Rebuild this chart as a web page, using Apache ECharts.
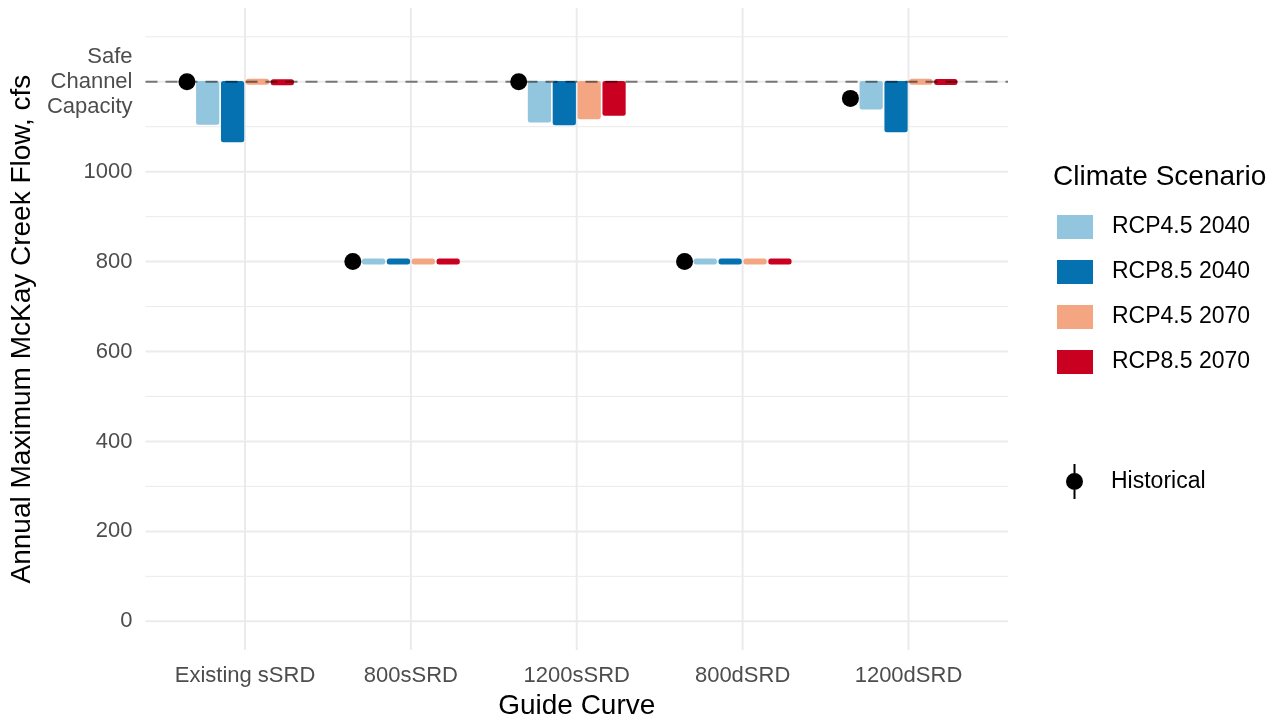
<!DOCTYPE html>
<html>
<head>
<meta charset="utf-8">
<script src="https://cdn.jsdelivr.net/npm/echarts@6/dist/echarts.min.js"></script>
<style>
  html, body { margin: 0; padding: 0; background: #ffffff; }
  #chart { width: 1282px; height: 725px; }
</style>
</head>
<body>
<div id="chart"></div>
<script>
// Guide curves along the x axis
const categories = ['Existing sSRD', '800sSRD', '1200sSRD', '800dSRD', '1200dSRD'];
// Each bar is drawn from the guide curve's target flow to the scenario value (cfs)
const barBase = [1200, 800, 1200, 800, 1200];
const historical = [1200, 800, 1200, 800, 1163];
const rcp45_2040 = [1106, 800, 1111, 800, 1140];
const rcp85_2040 = [1067, 800, 1105, 800, 1089];
const rcp45_2070 = [1200, 800, 1118, 800, 1200];
const rcp85_2070 = [1198, 800, 1126, 800, 1199];
const scenarioNames = ['RCP4.5 2040', 'RCP8.5 2040', 'RCP4.5 2070', 'RCP8.5 2070'];
const scenarioValues = [rcp45_2040, rcp85_2040, rcp45_2070, rcp85_2070];
const scenarioColors = ['#92c5de', '#0571b0', '#f4a582', '#ca0020'];
const safeChannelCapacity = 1200;
const yTickValues = [0, 200, 400, 600, 800, 1000, 1200];
const yMinorValues = [100, 300, 500, 700, 900, 1100, 1300];
const yTickLabels = { 1200: 'Safe\nChannel\nCapacity' };

// Dodge layout (in category units)
const barOffsets = [-0.225, -0.075, 0.075, 0.225];
const barWidth = 0.14;
const pointOffset = -0.35;
const minBarPx = 6;

const FONT = "'Liberation Sans', Arial, sans-serif";
const GRID_COLOR = '#ebebeb';

const chart = echarts.init(document.getElementById('chart'), null, { renderer: 'canvas' });

function barSeries(k) {
  return {
    name: scenarioNames[k],
    type: 'custom',
    z: 3,
    itemStyle: { color: scenarioColors[k] },
    encode: { x: 0, y: [1, 2] },
    data: categories.map((c, i) => [i, scenarioValues[k][i], barBase[i]]),
    renderItem: function (params, api) {
      const x = api.value(0) + barOffsets[k];
      const pv = api.coord([x, api.value(1)]);
      const pb = api.coord([x, api.value(2)]);
      const w = api.size([barWidth, 0])[0];
      let top = Math.min(pv[1], pb[1]) - 0.7;
      let bot = Math.max(pv[1], pb[1]) + 0.7;
      if (bot - top < minBarPx) {
        const mid = (top + bot) / 2;
        top = mid - minBarPx / 2;
        bot = mid + minBarPx / 2;
      }
      return {
        type: 'rect',
        shape: { x: pv[0] - w / 2, y: top, width: w, height: bot - top, r: 2.5 },
        style: { fill: api.visual('color') }
      };
    }
  };
}

// Panel grid lines: [x, y, kind] where kind 0 = major horizontal, 1 = minor horizontal, 2 = vertical
const gridData = []
  .concat(yTickValues.map(v => [0, v, 0]))
  .concat(yMinorValues.map(v => [0, v, 1]))
  .concat(categories.map((c, i) => [i, 0, 2]));

const option = {
  animation: false,
  backgroundColor: '#ffffff',
  textStyle: { fontFamily: FONT },
  grid: { left: 145, right: 274, top: 8, bottom: 70, containLabel: false },
  title: {
    text: 'Climate Scenario',
    left: 1048,
    top: 158,
    textStyle: { fontFamily: FONT, fontSize: 28, fontWeight: 'normal', color: '#000000' }
  },
  legend: [
    {
      orient: 'vertical',
      left: 1052,
      top: 210,
      itemWidth: 36,
      itemHeight: 24,
      itemGap: 21,
      selectedMode: false,
      data: scenarioNames.map(n => ({ name: n, icon: 'rect' })),
      textStyle: { fontFamily: FONT, fontSize: 23, color: '#000000', lineHeight: 24, padding: [0, 0, 0, 14] }
    },
    {
      orient: 'vertical',
      left: 1061,
      top: 459,
      itemWidth: 17,
      itemHeight: 35,
      selectedMode: false,
      data: [{
        name: 'Historical',
        icon: 'path://M7.5,0 H9.5 V35 H7.5 Z M0,17.5 A8.5,8.5 0 1 1 17,17.5 A8.5,8.5 0 1 1 0,17.5 Z',
        itemStyle: { color: '#000000', opacity: 1 }
      }],
      textStyle: { fontFamily: FONT, fontSize: 23, color: '#000000', lineHeight: 24, padding: [0, 0, 0, 23] }
    }
  ],
  xAxis: {
    type: 'value',
    min: -0.6,
    max: 4.6,
    minInterval: 1,
    maxInterval: 1,
    name: 'Guide Curve',
    nameLocation: 'middle',
    nameGap: 41,
    nameTextStyle: { fontFamily: FONT, fontSize: 28, color: '#000000' },
    axisLine: { show: false },
    axisTick: { show: false },
    splitLine: { show: false },
    axisLabel: {
      margin: 15,
      fontFamily: FONT,
      fontSize: 22,
      color: '#4d4d4d',
      showMinLabel: false,
      showMaxLabel: false,
      formatter: function (v) {
        const i = Math.round(v);
        return Math.abs(v - i) < 1e-6 && categories[i] ? categories[i] : '';
      }
    }
  },
  yAxis: {
    type: 'value',
    min: -64,
    max: 1364,
    minInterval: 200,
    maxInterval: 200,
    name: 'Annual Maximum McKay Creek Flow, cfs',
    nameLocation: 'middle',
    nameGap: 96,
    nameTextStyle: { fontFamily: FONT, fontSize: 28, color: '#000000' },
    axisLine: { show: false },
    axisTick: { show: false },
    splitLine: { show: false },
    axisLabel: {
      margin: 13,
      fontFamily: FONT,
      fontSize: 22,
      color: '#4d4d4d',
      lineHeight: 25,
      padding: [6, 0, 0, 0],
      align: 'right',
      showMinLabel: false,
      showMaxLabel: false,
      formatter: function (v) {
        const r = Math.round(v);
        if (Math.abs(v - r) > 1e-6) return '';
        if (yTickLabels[r]) return yTickLabels[r];
        return yTickValues.indexOf(r) >= 0 ? String(r) : '';
      }
    }
  },
  series: [
    {
      name: 'panel grid',
      type: 'custom',
      z: 0,
      silent: true,
      legendHoverLink: false,
      data: gridData,
      renderItem: function (params, api) {
        const cs = params.coordSys;
        const kind = api.value(2);
        if (kind === 2) {
          const p = api.coord([api.value(0), 0]);
          return {
            type: 'line',
            shape: { x1: p[0], y1: cs.y, x2: p[0], y2: cs.y + cs.height },
            style: { stroke: GRID_COLOR, lineWidth: 2 }
          };
        }
        const p = api.coord([0, api.value(1)]);
        return {
          type: 'line',
          shape: { x1: cs.x, y1: p[1], x2: cs.x + cs.width, y2: p[1] },
          style: { stroke: GRID_COLOR, lineWidth: kind === 0 ? 2 : 1 }
        };
      }
    },
    barSeries(0),
    barSeries(1),
    barSeries(2),
    barSeries(3),
    {
      name: 'safe channel capacity',
      type: 'custom',
      z: 5,
      silent: true,
      data: [[0, safeChannelCapacity]],
      renderItem: function (params, api) {
        const cs = params.coordSys;
        const p = api.coord([0, api.value(1)]);
        return {
          type: 'line',
          shape: { x1: cs.x, y1: p[1], x2: cs.x + cs.width, y2: p[1] },
          style: { stroke: 'rgba(0,0,0,0.5)', lineWidth: 2.2, lineDash: [12, 8] }
        };
      }
    },
    {
      name: 'Historical',
      type: 'scatter',
      z: 6,
      symbol: 'circle',
      symbolSize: 17,
      itemStyle: { color: '#000000', opacity: 1 },
      data: historical.map((v, i) => [i + pointOffset, v])
    }
  ]
};

chart.setOption(option);
</script>
</body>
</html>
